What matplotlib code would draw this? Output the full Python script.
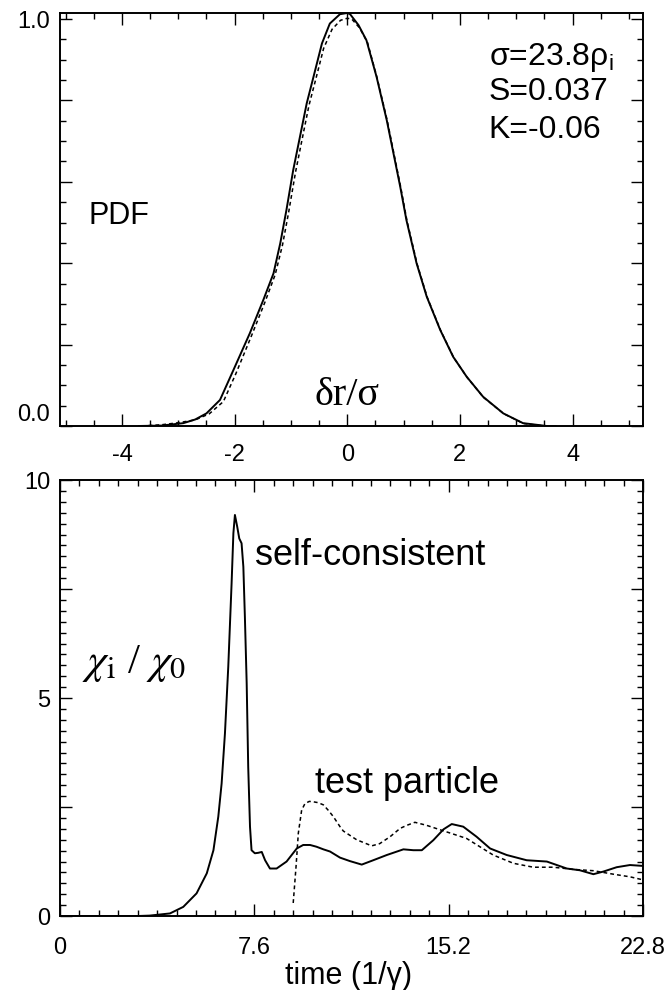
import matplotlib
matplotlib.use('Agg')
import matplotlib.pyplot as plt
from matplotlib.ticker import MultipleLocator, FixedLocator, FuncFormatter

plt.rcParams['font.family'] = ['Liberation Sans', 'DejaVu Sans']
plt.rcParams['mathtext.fontset'] = 'custom'
plt.rcParams['mathtext.rm'] = 'Liberation Sans'
plt.rcParams['axes.unicode_minus'] = False

# --- top panel: PDF of radial displacement (dr / sigma) ---
pdf_x_solid = [-3.7, -3.3, -2.91, -2.70, -2.50, -2.26, -2.02, -1.73, -1.49, -1.31,
               -1.19, -1.08, -0.96, -0.84, -0.72, -0.60, -0.45, -0.31, -0.13, 0.0,
               0.05, 0.20, 0.34, 0.52, 0.70, 0.82, 0.94, 1.05, 1.23, 1.41,
               1.65, 1.88, 2.12, 2.41, 2.77, 3.12, 3.54, 3.7]
pdf_y_solid = [0.0, 0.001, 0.007, 0.016, 0.031, 0.064, 0.138, 0.228, 0.310, 0.375,
               0.449, 0.531, 0.629, 0.711, 0.793, 0.858, 0.940, 0.989, 1.012, 1.015,
               1.012, 0.985, 0.948, 0.858, 0.752, 0.670, 0.588, 0.506, 0.400, 0.318,
               0.236, 0.170, 0.121, 0.072, 0.031, 0.007, 0.0, 0.0]

pdf_x_dash = [-3.65, -3.3, -3.0, -2.7, -2.45, -2.2, -1.98, -1.70, -1.46, -1.28,
              -1.15, -1.04, -0.92, -0.80, -0.68, -0.56, -0.42, -0.27, -0.12, 0.0,
              0.08, 0.22, 0.36, 0.53, 0.71, 0.83, 0.95, 1.06, 1.24, 1.42,
              1.66, 1.89, 2.13, 2.42, 2.78, 3.13, 3.5]
pdf_y_dash = [0.0, 0.003, 0.008, 0.015, 0.030, 0.060, 0.128, 0.222, 0.305, 0.372,
              0.445, 0.526, 0.623, 0.706, 0.788, 0.852, 0.928, 0.975, 0.997, 1.002,
              1.0, 0.978, 0.942, 0.855, 0.750, 0.668, 0.586, 0.504, 0.398, 0.316,
              0.234, 0.168, 0.119, 0.070, 0.030, 0.006, 0.0]

# --- bottom panel: chi_i / chi_0 vs time ---
t_self = [0, 3.0, 3.5, 4.3, 4.82, 5.34, 5.74, 6.0, 6.19, 6.32,
          6.45, 6.58, 6.71, 6.78, 6.84, 6.93, 7.01, 7.10, 7.17, 7.23,
          7.30, 7.36, 7.43, 7.49, 7.62, 7.75, 7.89, 8.02, 8.21, 8.47,
          8.86, 9.26, 9.51, 9.78, 10.03, 10.30, 10.56, 10.95, 11.34, 11.80,
          12.25, 12.78, 13.43, 13.82, 14.15, 14.60, 15.0, 15.32, 15.77, 16.29,
          16.82, 17.47, 18.25, 19.04, 19.82, 20.33, 20.86, 21.25, 21.77, 22.29, 22.8]
chi_self = [0, 0, 0.01, 0.06, 0.21, 0.52, 0.98, 1.51, 2.28, 3.04,
            4.19, 5.72, 7.63, 8.78, 9.20, 8.93, 8.66, 8.55, 8.01, 6.86,
            5.34, 3.42, 2.05, 1.51, 1.44, 1.45, 1.47, 1.28, 1.09, 1.09,
            1.25, 1.55, 1.63, 1.63, 1.59, 1.53, 1.48, 1.34, 1.26, 1.18,
            1.28, 1.40, 1.53, 1.51, 1.51, 1.74, 1.99, 2.11, 2.05, 1.82,
            1.55, 1.40, 1.28, 1.25, 1.09, 1.05, 0.96, 1.02, 1.12, 1.17, 1.15]

t_test = [9.12, 9.23, 9.32, 9.45, 9.58, 9.75, 9.91, 10.10, 10.30, 10.50,
          10.69, 10.95, 11.08, 11.60, 12.19, 12.50, 12.91, 13.30, 13.56, 13.88,
          14.34, 15.12, 15.90, 16.42, 16.94, 17.73, 18.51, 19.29, 20.08, 20.86,
          21.64, 22.29, 22.8]
chi_test = [0.3, 1.13, 1.9, 2.43, 2.58, 2.63, 2.62, 2.60, 2.55, 2.42,
            2.28, 2.05, 1.95, 1.75, 1.61, 1.66, 1.82, 2.01, 2.08, 2.15,
            2.08, 1.93, 1.78, 1.59, 1.40, 1.21, 1.12, 1.12, 1.07, 1.04,
            0.96, 0.90, 0.83]

pdf_ylabels = {0.0: '0.0', 1.0: '1.0'}
chi_ylabels = {0: '0', 5: '5', 10: '10'}
time_ticks = [0, 7.6, 15.2, 22.8]


def style(ax, xpad):
    for s in ax.spines.values():
        s.set_linewidth(1.4)
    ax.tick_params(which='both', direction='in', top=True, right=True,
                   width=1.0, labelsize=17)
    ax.tick_params(which='major', length=8.6)
    ax.tick_params(which='minor', length=4.3)
    ax.tick_params(axis='y', pad=7)
    ax.tick_params(axis='x', pad=xpad)


fig = plt.figure(figsize=(6.67, 9.9), dpi=100)
ax1 = fig.add_axes([0.09, 0.5697, 0.874, 0.4172])
ax2 = fig.add_axes([0.09, 0.0747, 0.874, 0.4404])

# top panel
ax1.plot(pdf_x_solid, pdf_y_solid, color='black', lw=1.4)
ax1.plot(pdf_x_dash, pdf_y_dash, color='black', lw=1.1, dashes=(2.5, 2))
ax1.set_xlim(-5.1, 5.25)
ax1.set_ylim(0, 1.015)
ax1.xaxis.set_major_locator(FixedLocator([-4, -2, 0, 2, 4]))
ax1.xaxis.set_minor_locator(MultipleLocator(0.5))
ax1.yaxis.set_major_locator(MultipleLocator(0.2))
ax1.yaxis.set_minor_locator(MultipleLocator(0.05))
ax1.yaxis.set_major_formatter(FuncFormatter(
    lambda v, p: pdf_ylabels.get(round(v, 2), '')))
style(ax1, 13)
fig.canvas.draw()
for lab in ax1.get_yticklabels():
    if lab.get_text() == '0.0':
        lab.set_va('bottom')

ax1.text(-4.6, 0.496, 'PDF', fontsize=22)
ax1.text(2.51, 0.887, 'σ=23.8ρ$_\\mathrm{i}$', fontsize=23)
ax1.text(2.51, 0.801, 'S=0.037', fontsize=23)
ax1.text(2.51, 0.708, 'K=-0.06', fontsize=23)
ax1.text(0.0, 0.052, 'δr/σ', fontsize=29, ha='center',
         family='Liberation Serif')

# bottom panel
ax2.plot(t_self, chi_self, color='black', lw=1.4)
ax2.plot(t_test, chi_test, color='black', lw=1.1, dashes=(2.5, 2))
ax2.set_xlim(0, 22.8)
ax2.set_ylim(0, 10)
ax2.xaxis.set_major_locator(FixedLocator(time_ticks))
ax2.xaxis.set_major_formatter(FuncFormatter(
    lambda v, p: '0' if v == 0 else '%.1f' % v))
ax2.xaxis.set_minor_locator(MultipleLocator(0.76))
ax2.yaxis.set_major_locator(MultipleLocator(2.5))
ax2.yaxis.set_minor_locator(MultipleLocator(0.25))
ax2.yaxis.set_major_formatter(FuncFormatter(
    lambda v, p: chi_ylabels.get(round(v, 2), '')))
style(ax2, 15)

ax2.text(7.63, 8.05, 'self-consistent', fontsize=26)
ax2.text(9.97, 2.82, 'test particle', fontsize=26)
ax2.text(0.86, 5.57, r'$\chi_{\mathrm{i}}$ / $\chi_{\mathrm{0}}$', fontsize=31,
         family='Liberation Serif', math_fontfamily='stix')
fig.text(0.523, 0.006, 'time (1/γ)', fontsize=22, ha='center')

fig.savefig('out.png', dpi=100)
